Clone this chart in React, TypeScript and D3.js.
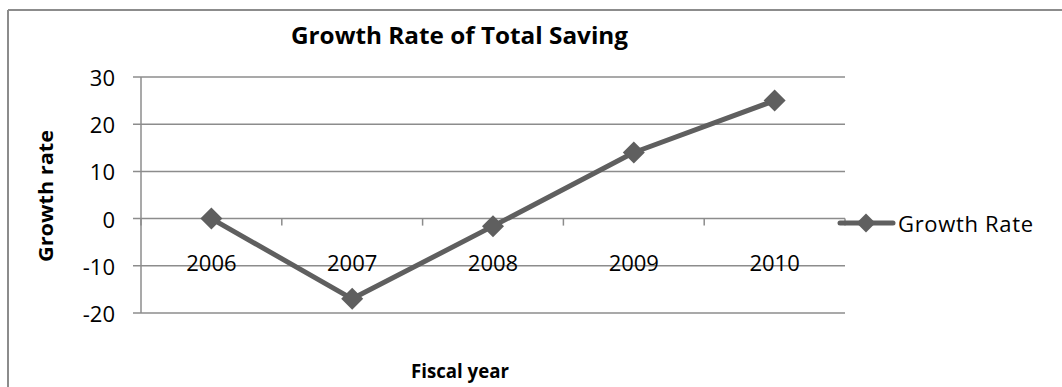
import React from "react";
import * as d3 from "d3";

const years = ["2006", "2007", "2008", "2009", "2010"];
const growthRate = [0, -17, -1.6, 14, 25];
const yTicks = [-20, -10, 0, 10, 20, 30];
const seriesName = "Growth Rate";
const titleText = "Growth Rate of Total Saving";
const xTitle = "Fiscal year";
const yTitle = "Growth rate";

const W = 1062;
const H = 387;
const plot = { left: 141, right: 845, top: 77, bottom: 313 };
const lineColor = "#5f5f5f";
const gridColor = "#8c8c8c";
const font = "'Open Sans', 'DejaVu Sans', sans-serif";

function diamond(cx: number, cy: number, r: number) {
  return `M${cx},${cy - r}L${cx + r},${cy}L${cx},${cy + r}L${cx - r},${cy}Z`;
}

export default function App() {
  const x = d3.scaleBand<string>().domain(years).range([plot.left, plot.right]);
  const y = d3.scaleLinear().domain([-20, 30]).range([plot.bottom, plot.top]);
  const cx = (d: string) => (x(d) as number) + x.bandwidth() / 2;
  const line = d3
    .line<number>()
    .x((_, i) => cx(years[i]))
    .y((v) => y(v));
  const y0 = y(0);
  const boundaries = years.map((d) => x(d) as number).concat([plot.right]);

  return (
    <svg
      width={W}
      height={H}
      style={{ position: "absolute", left: 0, top: 0, display: "block" }}
      fontFamily={font}
    >
      <rect x={0} y={0} width={W} height={H} fill="#fff" />
      {/* outer border */}
      <line x1={8} x2={W} y1={10} y2={10} stroke={gridColor} strokeWidth={2} />
      <line x1={8} x2={8} y1={10} y2={H} stroke={gridColor} strokeWidth={2} />

      {/* gridlines */}
      {yTicks.map((t) => (
        <g key={t}>
          <line
            x1={plot.left - 8}
            x2={plot.right}
            y1={y(t)}
            y2={y(t)}
            stroke={gridColor}
            strokeWidth={1.5}
          />
          <text
            x={115}
            y={y(t)}
            textAnchor="end"
            dominantBaseline="central"
            fontSize={22}
            fill="#000"
          >
            {t}
          </text>
        </g>
      ))}
      {/* y axis */}
      <line x1={plot.left} x2={plot.left} y1={plot.top} y2={plot.bottom} stroke={gridColor} strokeWidth={1.5} />
      {/* category ticks on zero line */}
      {boundaries.map((b, i) => (
        <line key={i} x1={b} x2={b} y1={y0} y2={y0 + 7} stroke={gridColor} strokeWidth={1.5} />
      ))}
      {/* x tick labels */}
      {years.map((d) => (
        <text
          key={d}
          x={cx(d)}
          y={262}
          textAnchor="middle"
          dominantBaseline="central"
          fontSize={22}
          fill="#000"
        >
          {d}
        </text>
      ))}

      {/* series */}
      <path d={line(growthRate) || ""} fill="none" stroke={lineColor} strokeWidth={5} strokeLinejoin="round" />
      {growthRate.map((v, i) => (
        <path key={i} d={diamond(cx(years[i]), y(v), 11)} fill={lineColor} />
      ))}

      {/* legend */}
      <line x1={840} x2={893} y1={223} y2={223} stroke={lineColor} strokeWidth={5} strokeLinecap="round" />
      <path d={diamond(866, 223, 9.5)} fill={lineColor} />
      <text x={898} y={223} dominantBaseline="central" fontSize={22} textLength={135} fill="#000">
        {seriesName}
      </text>

      {/* titles */}
      <text x={459.5} y={34} textAnchor="middle" dominantBaseline="central" fontSize={24} fontWeight="bold" textLength={337} lengthAdjust="spacingAndGlyphs" fill="#000">
        {titleText}
      </text>
      <text x={460} y={370} textAnchor="middle" dominantBaseline="central" fontSize={20} fontWeight="bold" textLength={98} lengthAdjust="spacingAndGlyphs" fill="#000">
        {xTitle}
      </text>
      <text
        transform="translate(45,196) rotate(-90)"
        textAnchor="middle"
        dominantBaseline="central"
        fontSize={20}
        fontWeight="bold"
        textLength={132}
        lengthAdjust="spacingAndGlyphs"
        fill="#000"
      >
        {yTitle}
      </text>
    </svg>
  );
}
